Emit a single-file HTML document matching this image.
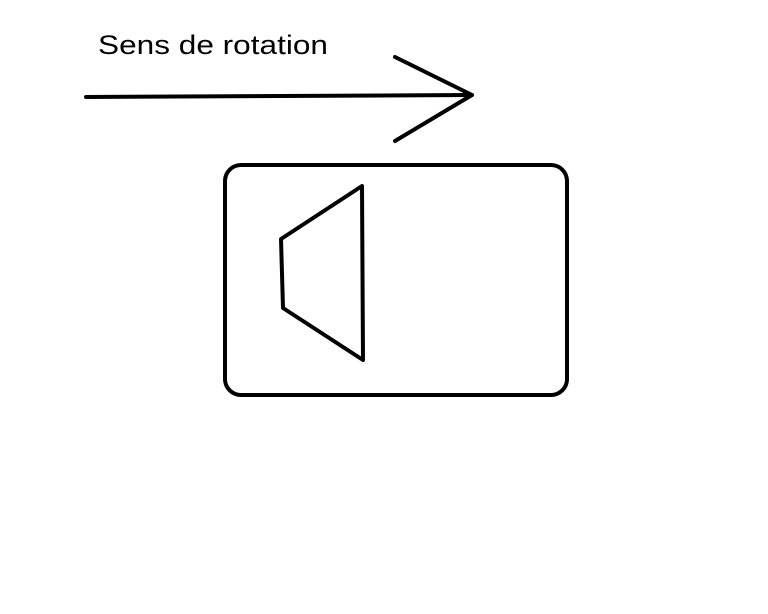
<!DOCTYPE html>
<html><head><style>
html,body{margin:0;padding:0;background:#fff;width:768px;height:614px;overflow:hidden}
</style></head><body>
<svg width="768" height="614" xmlns="http://www.w3.org/2000/svg">
<text x="98" y="54" font-family="Liberation Sans, sans-serif" font-size="27" fill="#000" textLength="230" lengthAdjust="spacingAndGlyphs">Sens de rotation</text>
<g stroke="#000" stroke-width="4" fill="none" stroke-linecap="round" stroke-linejoin="round">
<line x1="86" y1="97" x2="472" y2="95"/>
<polyline points="395,57 472,95 395,141"/>
<rect x="225" y="165" width="342" height="230" rx="16"/>
<polygon points="362,186 281,239 283,308 363,360"/>
</g>
</svg>
</body></html>
